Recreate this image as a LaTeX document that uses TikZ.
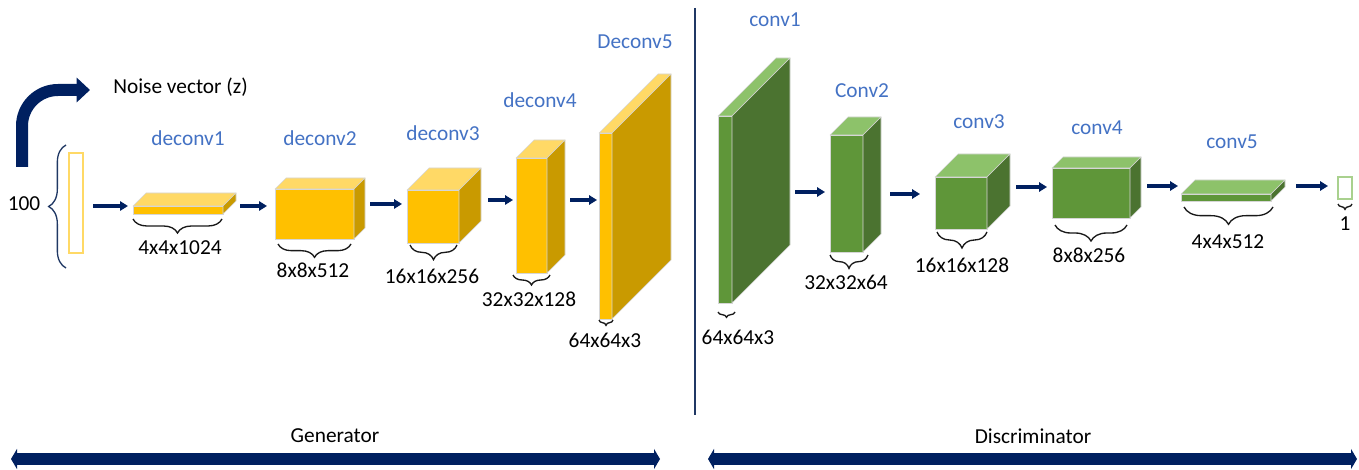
\documentclass[tikz,border=0pt]{standalone}
\usepackage{fontspec}
\setmainfont{Carlito}
\usetikzlibrary{arrows.meta,decorations.pathreplacing,calc}
\definecolor{navy}{HTML}{002060}
\definecolor{bracec}{HTML}{203864}
\definecolor{lblue}{HTML}{4472C4}
\definecolor{yfront}{HTML}{FFC000}
\definecolor{ytop}{HTML}{FFD966}
\definecolor{yside}{HTML}{C99A00}
\definecolor{gfront}{HTML}{5F9639}
\definecolor{gtop}{HTML}{8DC26A}
\definecolor{gside}{HTML}{4B7330}
\definecolor{gline}{HTML}{A9D18E}
\definecolor{edgec}{HTML}{D6D6D6}
\newcommand\upx{0.75pt}
\newcommand\mkcube[9]{%
  \node[cubefront, fill=#7, minimum width=#4*0.75pt, minimum height=#5*0.75pt] (#1) at (#2,#3) {};
  \filldraw[cubeedge, fill=#8] (#1.north west) -- ++(#6,-#6) -- ++(#4,0) -- (#1.north east) -- cycle;
  \filldraw[cubeedge, fill=#9] (#1.north east) -- ++(#6,-#6) -- ++(0,#5) -- (#1.south east) -- cycle;
}
\begin{document}
\begin{tikzpicture}[x=0.75pt, y=-0.75pt,
  font=\fontsize{16}{19}\selectfont,
  cubefront/.style={draw=edgec, line width=0.5pt, inner sep=0pt, outer sep=0pt},
  cubeedge/.style={draw=edgec, line width=0.5pt, line join=round},
  lbl/.style={text=lblue, inner sep=0pt},
  dim/.style={text=black, inner sep=0pt},
  arr/.style={navy, line width=2.6pt, -{Triangle[length=6pt,width=7pt]}},
  br/.style={decorate, decoration={brace, amplitude=#1}, line width=1pt, black!90},
  br/.default=8pt,
  bigarr/.style={navy, line width=9pt, {Triangle[length=4.5pt,width=15pt]}-{Triangle[length=4.5pt,width=15pt]}},
  vecbox/.style={draw=#1, line width=0.8pt, fill=white, inner sep=0pt, outer sep=0pt}
]
\useasboundingbox (0,0) rectangle (1359,470);

% noise vector arrow
\draw[navy, line width=9pt, rounded corners=27pt, -{Triangle[length=10pt,width=18pt]}] (22,167) -- (22,90) -- (90,90);
\node[dim, anchor=west] (noise) at (113,87) {Noise vector (z)};

% input vector
\node[vecbox=ytop, minimum width=14*0.75pt, minimum height=100*0.75pt] (vec) at (76,203) {};
\draw[decorate, decoration={brace, amplitude=13pt}, line width=1pt, bracec] (66,268) -- (66,145);
\node[dim] (n100) at (24,204) {100};

% generator cubes
\mkcube{d1}{178}{210}{90}{8}{13}{yfront}{ytop}{yside}
\mkcube{d2}{314.5}{214}{79}{50}{11}{yfront}{ytop}{yside}
\mkcube{d3}{433}{216.5}{52}{53}{22}{yfront}{ytop}{yside}
\mkcube{d4}{531.5}{215.5}{31}{115}{18}{yfront}{ytop}{yside}
\mkcube{d5}{605.5}{226}{13}{186}{59}{yfront}{ytop}{yside}

% discriminator cubes
\mkcube{c1}{725}{209.5}{14}{187}{58}{gfront}{gtop}{gside}
\mkcube{c2}{846.5}{193.5}{33}{117}{18}{gfront}{gtop}{gside}
\mkcube{c3}{961}{203}{52}{52}{23}{gfront}{gtop}{gside}
\mkcube{c4}{1091}{193}{78}{50}{11}{gfront}{gtop}{gside}
\mkcube{c5}{1226}{197.5}{90}{7}{14}{gfront}{gtop}{gside}

% output
\node[vecbox=gline, minimum width=14*0.75pt, minimum height=22*0.75pt] (out) at (1345,188) {};

% layer names
\node[lbl] (l1) at (188,138) {deconv1};
\node[lbl] (l2) at (320,138) {deconv2};
\node[lbl] (l3) at (443,133) {deconv3};
\node[lbl] (l4) at (540,100) {deconv4};
\node[lbl] (l5) at (635,42) {Deconv5};
\node[lbl] (m1) at (775,20) {conv1};
\node[lbl] (m2) at (862,91) {Conv2};
\node[lbl] (m3) at (979,122) {conv3};
\node[lbl] (m4) at (1097,128) {conv4};
\node[lbl] (m5) at (1232,142) {conv5};

% connectors
\draw[arr, shorten <=10*\upx, shorten >=5*\upx] (vec.east |- 0,206) -- (d1.west |- 0,206);
\draw[arr, shorten <=17*\upx, shorten >=8*\upx] (d1.east |- 0,206) -- (d2.west |- 0,206);
\draw[arr, shorten <=16*\upx, shorten >=5*\upx] (d2.east |- 0,204) -- (d3.west |- 0,204);
\draw[arr, shorten <=29*\upx, shorten >=3*\upx] (d3.east |- 0,200) -- (d4.west |- 0,200);
\draw[arr, shorten <=23*\upx, shorten >=2*\upx] (d4.east |- 0,200) -- (d5.west |- 0,200);
\draw[arr, shorten <=63*\upx, shorten >=5*\upx] (c1.east |- 0,192) -- (c2.west |- 0,192);
\draw[arr, shorten <=27*\upx, shorten >=15*\upx] (c2.east |- 0,194) -- (c3.west |- 0,194);
\draw[arr, shorten <=29*\upx, shorten >=5*\upx] (c3.east |- 0,187) -- (c4.west |- 0,187);
\draw[arr, shorten <=17*\upx, shorten >=3*\upx] (c4.east |- 0,186) -- (c5.west |- 0,186);
\draw[arr, shorten <=25*\upx, shorten >=10*\upx] (c5.east |- 0,186) -- (out.west |- 0,186);

% braces and sizes
\draw[br=10.5pt] (222,219) -- (133,219);
\node[dim] (s1) at (180,248) {4x4x1024};
\draw[br=10pt] (351,244) -- (278,244);
\node[dim] (s2) at (313,270) {8x8x512};
\draw[br=11pt] (457,245) -- (410,245);
\node[dim] (s3) at (432,276) {16x16x256};
\draw[br=7.5pt] (550,275) -- (513,275);
\node[dim] (s4) at (529,299) {32x32x128};
\draw[br=4pt] (613,320) -- (599,320);
\node[dim] (s5) at (605,340) {64x64x3};

\draw[br=4pt] (735,312) -- (718,312);
\node[dim] (t1) at (738,337) {64x64x3};
\draw[br=10pt] (868,255) -- (830,255);
\node[dim] (t2) at (846,282) {32x32x64};
\draw[br=12pt] (987,232) -- (937,232);
\node[dim] (t3) at (962,265) {16x16x128};
\draw[br=12pt] (1127,225) -- (1055,225);
\node[dim] (t4) at (1089,255) {8x8x256};
\draw[br=13pt] (1273,207) -- (1184,207);
\node[dim] (t5) at (1228,242) {4x4x512};
\draw[br=4pt] (1352,204) -- (1338,204);
\node[dim] (t6) at (1345,224) {1};

% divider
\coordinate (divT) at (695,8);
\coordinate (divB) at (695,415);
\draw[bracec, line width=1.1pt] (divT) -- (divB);

% bottom arrows
\coordinate (gL) at (11,459);
\coordinate (gR) at (660,459);
\coordinate (dL) at (708,459);
\coordinate (dR) at (1357,459);
\draw[bigarr] (gL) -- (gR);
\draw[bigarr] (dL) -- (dR);
\node[dim] (gen) at (335,436) {Generator};
\node[dim] (dis) at (1033,436) {Discriminator};
\end{tikzpicture}
\end{document}
